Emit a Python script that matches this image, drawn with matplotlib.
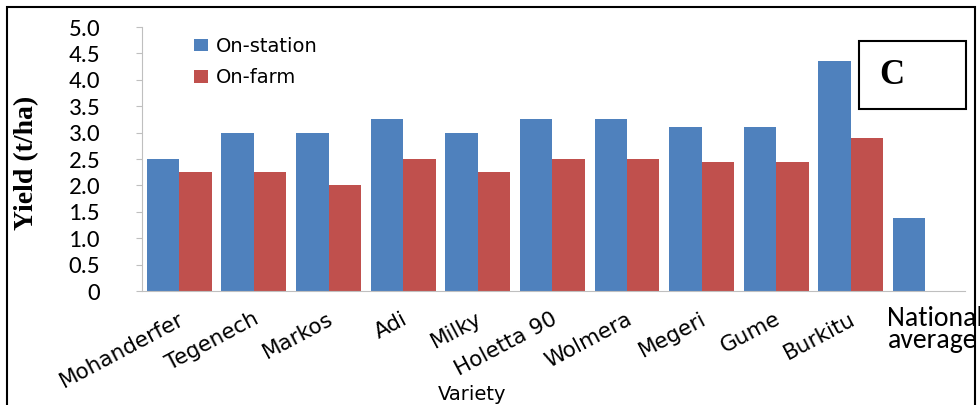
import matplotlib
matplotlib.use("Agg")
import matplotlib.pyplot as plt
from matplotlib import font_manager
from matplotlib.patches import Rectangle
import numpy as np

varieties = ["Mohanderfer", "Tegenech", "Markos", "Adi", "Milky", "Holetta 90",
             "Wolmera", "Megeri", "Gume", "Burkitu"]
on_station = [2.5, 3.0, 3.0, 3.25, 3.0, 3.25, 3.25, 3.1, 3.1, 4.35]
on_farm = [2.25, 2.25, 2.0, 2.5, 2.25, 2.5, 2.5, 2.45, 2.45, 2.9]
national_average = 1.38
yticks = [0, 0.5, 1.0, 1.5, 2.0, 2.5, 3.0, 3.5, 4.0, 4.5, 5.0]
ytick_labels = ["0", "0.5", "1.0", "1.5", "2.0", "2.5", "3.0", "3.5", "4.0", "4.5", "5.0"]

BLUE = "#4F81BD"
RED = "#C0504D"

# pick a Calibri-like face if one is around
installed = {f.name for f in font_manager.fontManager.ttflist}
narrow = next((f for f in ["Carlito", "Liberation Sans Narrow", "Open Sans", "DejaVu Sans"]
               if f in installed), "DejaVu Sans")
wide = "DejaVu Sans"
serif = "Liberation Serif"

fig = plt.figure(figsize=(9.8, 4.05), dpi=100)
W, H = 980, 405
ax = fig.add_axes([142 / W, 1 - 291 / H, (965 - 142) / W, (291 - 27) / H])

x = np.arange(len(varieties) + 1)
bw = 0.435
ax.bar(x[:-1] - bw / 2, on_station, bw, color=BLUE, label="On-station")
ax.bar(x[:-1] + bw / 2, on_farm, bw, color=RED, label="On-farm")
ax.bar(x[-1] - bw / 2, national_average, bw, color=BLUE)

ax.set_xlim(-0.5, len(varieties) + 0.53)
ax.set_ylim(0, 5.0)
ax.set_yticks(yticks)
ax.set_yticklabels(ytick_labels, family=narrow, fontsize=18)
ax.tick_params(axis="y", length=4, color="#BFBFBF", pad=26)
ax.set_xticks([])
for side in ["top", "right"]:
    ax.spines[side].set_visible(False)
ax.spines["left"].set_color("#BFBFBF")
ax.spines["bottom"].set_color("#BFBFBF")

# rotated variety names under each pair of bars
for i, name in enumerate(varieties):
    ax.text(i - 0.02, -0.068, name, transform=ax.get_xaxis_transform(),
            rotation=28, rotation_mode="anchor", ha="right", va="top",
            family=wide, fontsize=15.5)
ax.text(len(varieties) - 0.5 - 0.01, -0.055, "National\naverage",
        transform=ax.get_xaxis_transform(), ha="left", va="top",
        family=narrow, fontsize=20, linespacing=0.85, clip_on=False)

fig.text(472 / W, 1 - 394 / H, "Variety", family=wide, fontsize=14,
         ha="center", va="center")
fig.text(27 / W, 1 - 163 / H, "Yield (t/ha)", family=serif, fontsize=20,
         fontweight="bold", rotation=90, ha="center", va="center")

leg = ax.legend(loc="upper left", bbox_to_anchor=(34 / 823, 1.03), frameon=False,
                prop={"family": wide, "size": 14}, handlelength=0.75,
                handleheight=0.6, handletextpad=0.4, labelspacing=0.65)

# panel tag box
fig.add_artist(Rectangle((859 / W, 1 - 109 / H), 107 / W, 68 / H,
                         transform=fig.transFigure, fill=False,
                         edgecolor="black", linewidth=1.5))
fig.text(892 / W, 1 - 75 / H, "C", family=serif, fontsize=25,
         fontweight="bold", ha="center", va="center")

# outer frame
fig.add_artist(Rectangle((7 / W, -0.1), 968 / W, 1 - 7 / H + 0.1,
                         transform=fig.transFigure, fill=False,
                         edgecolor="black", linewidth=1.5))

fig.savefig("out.png", dpi=100)
